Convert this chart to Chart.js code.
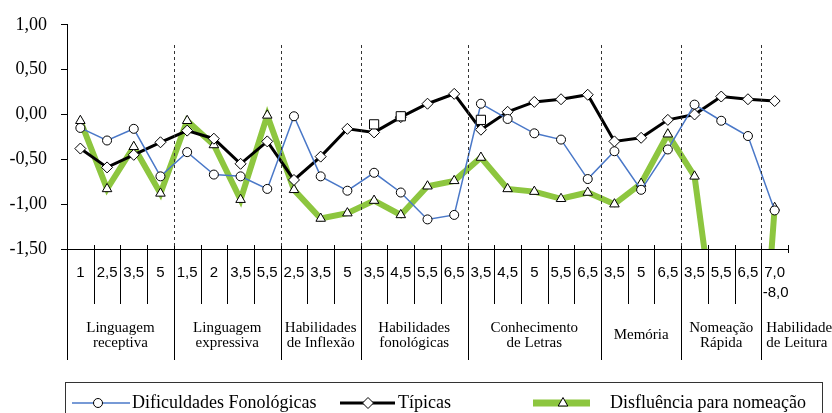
<!DOCTYPE html>
<html lang="pt">
<head>
  <meta charset="UTF-8">
  <title>Perfil por idade</title>
  <script src="https://cdn.jsdelivr.net/npm/chart.js"></script>
  <style>
    body {
      margin: 0;
      padding: 0;
      background: #ffffff;
    }
    #wrap {
      width: 832px;
      height: 413px;
      position: relative;
    }
  </style>
</head>
<body>
<div id="wrap"><canvas id="chart" width="832" height="413"></canvas></div>

<script>
// category ticks (age) and their groups
const categories = ['1', '2,5', '3,5', '5', '1,5', '2', '3,5', '5,5', '2,5', '3,5', '5',
  '3,5', '4,5', '5,5', '6,5', '3,5', '4,5', '5', '5,5', '6,5', '3,5', '5', '6,5',
  '3,5', '5,5', '6,5', '7,0\n-8,0'];
const groupNames = [
  ['Linguagem', 'receptiva'],
  ['Linguagem', 'expressiva'],
  ['Habilidades', 'de Inflexão'],
  ['Habilidades', 'fonológicas'],
  ['Conhecimento', 'de Letras'],
  ['Memória'],
  ['Nomeação', 'Rápida'],
  ['Habilidade', 'de Leitura']
];
const groupSizes = [4, 4, 3, 4, 5, 3, 3, 1];

const dificuldades = [-0.15, -0.29, -0.16, -0.69, -0.42, -0.67, -0.69, -0.83, -0.02, -0.69, -0.85,
  -0.65, -0.87, -1.17, -1.12, 0.12, -0.05, -0.21, -0.28, -0.72, -0.41, -0.84, -0.39,
  0.11, -0.07, -0.24, -1.07];
const tipicas = [-0.38, -0.59, -0.45, -0.31, -0.18, -0.27, -0.55, -0.30, -0.73, -0.47, -0.16,
  -0.20, -0.03, 0.12, 0.23, -0.17, 0.03, 0.14, 0.17, 0.22, -0.30, -0.26, -0.06,
  0.00, 0.20, 0.17, 0.15];
const disfluencia = [-0.07, -0.83, -0.36, -0.88, -0.07, -0.34, -0.95, -0.01, -0.84, -1.16, -1.10,
  -0.96, -1.12, -0.80, -0.74, -0.48, -0.83, -0.86, -0.94, -0.87, -1.00, -0.77, -0.22,
  -0.69, -2.9, -5.1, -1.04];
// square markers seen on a few points
const quadrados = [null, null, null, null, null, null, null, null, null, null, null,
  -0.11, -0.02, null, null, -0.06, null, null, null, null, null, null, null,
  null, null, null, null];

const yTicks = [1.0, 0.5, 0.0, -0.5, -1.0, -1.5];

const BLUE = '#4a78c8';
const GREEN = '#8dc63f';
const SERIF = '"Liberation Serif", "DejaVu Serif", serif';
const SANS = '"Liberation Sans", Arial, sans-serif';

const legendItems = [
  { label: 'Dificuldades Fonológicas', color: BLUE, width: 1.5, style: 'circle', x0: 72, x1: 130, mx: 98, tx: 132 },
  { label: 'Típicas', color: '#000', width: 3, style: 'diamond', x0: 340, x1: 395, mx: 368, tx: 398 },
  { label: 'Disfluência para nomeação', color: GREEN, width: 7, style: 'triangle', x0: 533, x1: 590, mx: 563, tx: 610 }
];

const axisPlugin = {
  id: 'groupedAxis',
  afterDatasetsDraw(chart) {
    const ctx = chart.ctx;
    const x = chart.scales.x;
    const area = chart.chartArea;
    const bottom = area.bottom;

    function boundary(i) {
      if (i <= 0) return area.left;
      if (i >= categories.length) return area.right;
      return (x.getPixelForValue(i - 1) + x.getPixelForValue(i)) / 2;
    }

    ctx.save();
    // x axis line
    ctx.strokeStyle = '#000';
    ctx.lineWidth = 1;
    ctx.beginPath();
    ctx.moveTo(area.left - 6, Math.round(bottom) + 0.5);
    ctx.lineTo(area.right + 1, Math.round(bottom) + 0.5);
    ctx.stroke();

    // group starts
    const starts = [];
    let acc = 0;
    groupSizes.forEach(n => { starts.push(acc); acc += n; });

    // category separators
    for (let i = 0; i <= categories.length; i++) {
      const bx = Math.round(boundary(i)) + 0.5;
      const isGroup = starts.includes(i);
      let yEnd = isGroup ? 360 : 304;
      if (i === categories.length) yEnd = bottom + 4;
      ctx.beginPath();
      ctx.moveTo(bx, bottom - 4);
      ctx.lineTo(bx, yEnd);
      ctx.stroke();
    }

    // dashed group dividers inside the plot
    ctx.setLineDash([3, 3]);
    ctx.strokeStyle = '#333';
    starts.forEach(s => {
      if (s === 0) return;
      const bx = Math.round(boundary(s)) + 0.5;
      ctx.beginPath();
      ctx.moveTo(bx, 45);
      ctx.lineTo(bx, bottom);
      ctx.stroke();
    });
    ctx.setLineDash([]);

    // category labels
    ctx.fillStyle = '#000';
    ctx.font = '15px ' + SANS;
    ctx.textAlign = 'center';
    ctx.textBaseline = 'middle';
    categories.forEach((c, i) => {
      const cx = x.getPixelForValue(i);
      const lines = c.split('\n');
      lines.forEach((ln, k) => ctx.fillText(ln, cx + (k > 0 ? 1 : 0), 273 + k * 20));
    });

    // group labels
    ctx.font = '15px ' + SERIF;
    groupNames.forEach((g, gi) => {
      const a = boundary(starts[gi]);
      const b = boundary(starts[gi] + groupSizes[gi]);
      let cx = (a + b) / 2;
      if (gi === groupNames.length - 1) {
        ctx.textAlign = 'left';
        cx = a + 5;
      } else {
        ctx.textAlign = 'center';
      }
      const y0 = g.length === 1 ? 335 : 328;
      g.forEach((ln, k) => ctx.fillText(ln, cx, y0 + k * 15));
    });

    // legend box
    ctx.strokeStyle = '#333';
    ctx.lineWidth = 1;
    ctx.strokeRect(65.5, 382.5, 757, 40);
    const ly = 403;
    ctx.textAlign = 'left';
    ctx.font = '18px ' + SERIF;
    legendItems.forEach(it => {
      ctx.strokeStyle = it.color;
      ctx.lineWidth = it.width;
      ctx.beginPath();
      ctx.moveTo(it.x0, ly);
      ctx.lineTo(it.x1, ly);
      ctx.stroke();
      ctx.fillStyle = '#fff';
      ctx.strokeStyle = '#000';
      ctx.lineWidth = 1;
      ctx.beginPath();
      if (it.style === 'circle') {
        ctx.arc(it.mx, ly, 4.5, 0, Math.PI * 2);
      } else if (it.style === 'diamond') {
        ctx.moveTo(it.mx, ly - 5.5);
        ctx.lineTo(it.mx + 5.5, ly);
        ctx.lineTo(it.mx, ly + 5.5);
        ctx.lineTo(it.mx - 5.5, ly);
        ctx.closePath();
      } else {
        ctx.moveTo(it.mx, ly - 5.5);
        ctx.lineTo(it.mx + 4.8, ly + 3);
        ctx.lineTo(it.mx - 4.8, ly + 3);
        ctx.closePath();
      }
      ctx.fill();
      ctx.stroke();
      ctx.fillStyle = '#000';
      ctx.fillText(it.label, it.tx, ly);
    });
    ctx.restore();
  }
};

new Chart(document.getElementById('chart').getContext('2d'), {
  type: 'line',
  data: {
    labels: categories,
    datasets: [
      {
        label: 'quadrados',
        data: quadrados,
        showLine: false,
        pointStyle: 'rect',
        pointRadius: 6.5,
        pointBackgroundColor: '#fff',
        pointBorderColor: '#000',
        pointBorderWidth: 1
      },
      {
        label: 'Dificuldades Fonológicas',
        data: dificuldades,
        borderColor: BLUE,
        borderWidth: 1.5,
        pointStyle: 'circle',
        pointRadius: 4.5,
        pointBackgroundColor: '#fff',
        pointBorderColor: '#000',
        pointBorderWidth: 1
      },
      {
        label: 'Típicas',
        data: tipicas,
        borderColor: '#000',
        borderWidth: 3,
        pointStyle: 'rectRot',
        pointRadius: 5.5,
        pointBackgroundColor: '#fff',
        pointBorderColor: '#000',
        pointBorderWidth: 1
      },
      {
        label: 'Disfluência para nomeação',
        data: disfluencia,
        borderColor: GREEN,
        borderWidth: 6,
        pointStyle: 'triangle',
        pointRadius: 5.5,
        pointBackgroundColor: '#fff',
        pointBorderColor: '#000',
        pointBorderWidth: 1,
        clip: 0
      }
    ]
  },
  options: {
    responsive: false,
    animation: false,
    layout: { padding: { left: 0, right: 44, top: 14, bottom: 164 } },
    elements: { line: { tension: 0 } },
    plugins: {
      legend: { display: false },
      tooltip: { enabled: false }
    },
    scales: {
      x: {
        type: 'category',
        offset: true,
        display: false
      },
      y: {
        min: -1.5,
        max: 1.0,
        afterFit(scale) { scale.width = 67; },
        afterBuildTicks(scale) { scale.ticks = yTicks.map(v => ({ value: v })); },
        border: { display: true, color: '#000', width: 1 },
        grid: { drawOnChartArea: false, drawTicks: true, tickLength: 6, color: '#000' },
        ticks: {
          padding: 14,
          color: '#000',
          font: { family: SERIF, size: 18 },
          callback: v => v.toFixed(2).replace('.', ',')
        }
      }
    }
  },
  plugins: [axisPlugin]
});
</script>
</body>
</html>
